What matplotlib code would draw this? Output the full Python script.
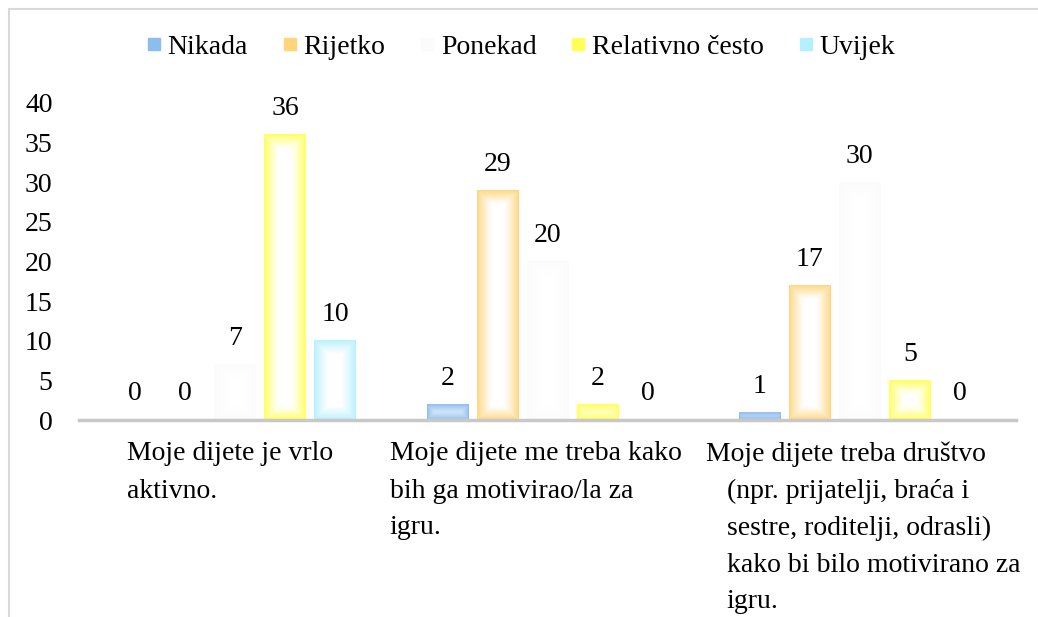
import numpy as np
import matplotlib
matplotlib.use('Agg')
from matplotlib import pyplot as plt
from matplotlib.colors import to_rgb
from matplotlib.patches import Rectangle
from matplotlib.lines import Line2D

categories = [
    ['Moje dijete je vrlo', 'aktivno.'],
    ['Moje dijete me treba kako', 'bih ga motivirao/la za', 'igru.'],
    ['Moje dijete treba društvo', '(npr. prijatelji, braća i', 'sestre, roditelji, odrasli)',
     'kako bi bilo motivirano za', 'igru.'],
]
series = ['Nikada', 'Rijetko', 'Ponekad', 'Relativno često', 'Uvijek']
nikada = [0, 2, 1]
rijetko = [0, 29, 17]
ponekad = [7, 20, 30]
relativno_cesto = [36, 2, 5]
uvijek = [10, 0, 0]
values = [nikada, rijetko, ponekad, relativno_cesto, uvijek]
colors = ['#8DBCEE', '#FFD47A', '#FBFBFB', '#FFFF55', '#B4F0FF']

plt.rcParams['font.family'] = ['Liberation Serif', 'DejaVu Serif']
FS = 20

W, H, DPI = 1038, 617, 100
PT = 72 / DPI  # points per pixel
fig = plt.figure(figsize=(W / DPI, H / DPI), dpi=DPI)
fig.patches.append(Rectangle((9 / W, -0.1), 1.2, 1 - 9 / H + 0.1, transform=fig.transFigure,
                             facecolor='none', edgecolor='#D9D9D9', linewidth=1.5, zorder=-1))

ax = fig.add_axes([79 / W, 1 - 420 / H, (1016 - 79) / W, (420 - 103) / H])
ax.set_xlim(-0.5, len(categories) - 0.5)
ax.set_ylim(0, 40)
ax.set_yticks(range(0, 41, 5))
ax.set_xticks([])
for s in ['top', 'right', 'left']:
    ax.spines[s].set_visible(False)
ax.spines['bottom'].set_color('#C8C8C8')
ax.spines['bottom'].set_linewidth(2.5)
ax.tick_params(axis='y', length=0, pad=19, labelsize=FS)
ax.patch.set_alpha(0)

x = np.arange(len(categories))
step = 0.16
width = 0.134


def gradient_fill(patch, color, band=14):
    # path-style gradient: colour at the edges, white in the middle
    x0, y0 = patch.get_x(), patch.get_y()
    w, h = patch.get_width(), patch.get_height()
    if h <= 0:
        return
    (px0, py0), (px1, py1) = ax.transData.transform([(x0, y0), (x0 + w, y0 + h)])
    nx, ny = max(int(px1 - px0), 2), max(int(py1 - py0), 2)
    xs = np.arange(nx) + 0.5
    ys = np.arange(ny) + 0.5
    dx = np.minimum(xs, nx - xs)[None, :]
    dy = np.minimum(ys, ny - ys)[:, None]
    t = np.clip(np.minimum(dx, dy) / band, 0, 1) ** 0.8
    c = np.array(to_rgb(color))
    img = c[None, None, :] * (1 - t[..., None]) + t[..., None]
    ax.imshow(img, extent=(x0, x0 + w, y0, y0 + h), aspect='auto', origin='lower',
              interpolation='bilinear', zorder=2)


for i, (name, vals, col) in enumerate(zip(series, values, colors)):
    pos = x + (i - 2) * step
    bars = ax.bar(pos, vals, width, color='none', edgecolor='none', zorder=3)
    for b in bars:
        gradient_fill(b, col)
    for p, v in zip(pos, vals):
        ax.annotate(str(v), (p, v), xytext=(0, 26 * PT), textcoords='offset points',
                    ha='center', va='center', fontsize=FS)

ax.set_xlim(-0.5, len(categories) - 0.5)
ax.set_ylim(0, 40)

# category labels below the axis, one line at a time (pixel offsets from the category centre)
left_px = [(-108, -108), (-158, -158), (-154, -133)]
for xi, lines, (first, rest) in zip(x, categories, left_px):
    for k, line in enumerate(lines):
        dx = first if k == 0 else rest
        ax.annotate(line, (xi, 0), xytext=(dx * PT, -(34 + 37 * k) * PT),
                    textcoords='offset points', ha='left', va='center', fontsize=FS)

handles = [Line2D([], [], marker='s', linestyle='none', markersize=8,
                  markerfacecolor=c, markeredgecolor=c) for c in colors]
fig.legend(handles, series, loc='center', bbox_to_anchor=(0.5, 1 - 47 / H), ncol=5,
           frameon=False, fontsize=FS, handletextpad=0.1, columnspacing=1.1,
           handlelength=0.8)

fig.savefig('out.png', dpi=DPI)
